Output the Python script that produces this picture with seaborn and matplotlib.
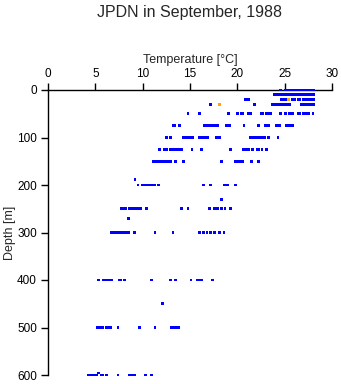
import matplotlib
matplotlib.use("Agg")
import matplotlib.pyplot as plt
import seaborn as sns
import pandas as pd

# Temperature (deg C) observed at each sampling depth (m)
depths = [0, 10, 20, 30, 50, 75, 100, 125, 150, 189, 200, 230, 250, 270,
          300, 400, 449, 500, 596, 600]
temps = [
    [24.6, 25.1, 25.3, 25.5, 25.7, 25.9, 26.1, 26.3, 26.5, 26.7, 26.9, 27.1,
     27.3, 27.5, 27.7, 27.9, 28.1],
    [23.9, 24.1, 24.4, 24.6, 24.8, 25.1, 25.3, 25.5, 25.7, 25.9, 26.1, 26.3,
     26.5, 26.7, 26.9, 27.1, 27.3, 27.5, 27.7, 27.9, 28.1],
    [20.9, 21.2, 24.7, 24.9, 25.1, 25.8, 26.0, 26.4, 26.6, 27.0, 27.2, 27.4,
     27.6, 27.8, 28.0, 28.1],
    [17.2, 21.8, 23.7, 23.9, 24.1, 24.3, 24.5, 24.7, 24.9, 25.1, 25.3, 25.5,
     26.8, 27.0, 27.2, 27.4, 27.6, 27.8, 28.0, 28.1],
    [14.8, 16.0, 19.1, 20.0, 20.4, 20.6, 21.2, 21.4, 22.5, 22.7, 23.1, 23.3,
     23.5, 24.6, 25.1, 25.5, 25.8, 26.4, 26.6, 27.0, 27.2, 27.5, 28.0],
    [13.2, 13.4, 13.9, 16.5, 16.7, 16.9, 17.1, 17.3, 17.5, 17.7, 17.9, 18.8,
     19.0, 19.2, 20.7, 22.2, 23.0, 23.3, 24.1, 24.3, 24.5, 25.2, 25.4, 25.6,
     25.8],
    [12.5, 12.9, 14.3, 14.5, 14.7, 14.9, 15.1, 15.3, 16.0, 16.2, 16.4, 16.6,
     16.9, 17.8, 18.1, 21.4, 21.6, 21.8, 22.0, 22.2, 22.4, 22.6, 22.9, 23.3,
     24.3],
    [11.8, 12.3, 12.5, 12.9, 13.1, 13.3, 13.5, 13.7, 13.9, 14.1, 15.2, 16.2,
     19.3, 20.6, 20.8, 21.0, 21.2, 21.6, 22.1, 22.3, 22.6, 23.1],
    [11.1, 11.3, 11.5, 11.7, 11.9, 12.1, 12.4, 12.6, 12.8, 13.0, 13.5, 14.3,
     18.3, 19.8, 20.0, 20.2, 20.4, 20.6, 21.5, 22.2],
    [9.2],
    [9.5, 10.0, 10.2, 10.4, 10.6, 10.8, 11.1, 11.3, 11.7, 16.4, 17.2, 18.6,
     18.8, 19.0, 19.8],
    [18.3],
    [7.8, 8.0, 8.2, 8.6, 8.8, 9.0, 9.2, 9.4, 9.6, 9.8, 10.4, 14.1, 14.8, 17.1,
     17.6, 17.9, 18.3, 18.7, 19.3],
    [8.5],
    [6.7, 6.9, 7.1, 7.3, 7.5, 7.7, 7.9, 8.1, 8.3, 8.5, 9.1, 11.3, 13.2, 16.0,
     16.4, 16.8, 17.2, 17.6, 18.1, 18.6],
    [5.3, 5.9, 6.1, 6.3, 6.5, 6.7, 7.5, 7.7, 8.1, 10.9, 12.9, 13.5, 15.1, 15.8,
     16.0, 16.2, 17.4],
    [12.1],
    [5.2, 5.4, 5.6, 5.8, 6.2, 6.4, 6.6, 7.4, 9.7, 11.3, 13.0, 13.2, 13.4, 13.6,
     13.8],
    [5.3],
    [4.3, 4.5, 4.7, 4.9, 5.1, 5.6, 5.8, 6.2, 7.4, 8.6, 8.8, 9.1, 10.3, 10.9],
]

# Flagged observations (drawn in orange)
flag_depths = [20, 30]
flag_temps = [25.4, 18.1]

x_ticks = [0, 5, 10, 15, 20, 25, 30]
y_ticks = [0, 100, 200, 300, 400, 500, 600]

rows = []
for d, ts in zip(depths, temps):
    for t in ts:
        rows.append({"temp": t, "depth": d, "flag": "ok"})
for d, t in zip(flag_depths, flag_temps):
    rows.append({"temp": t, "depth": d, "flag": "flagged"})
df = pd.DataFrame(rows)

sns.set_style("ticks")
plt.rcParams["font.family"] = ["Liberation Sans", "DejaVu Sans"]

fig = plt.figure(figsize=(3.41, 3.84), dpi=100)
ax = fig.add_axes([48 / 341, 1 - 375 / 384, (332 - 48) / 341, (375 - 90) / 384])

sns.scatterplot(data=df, x="temp", y="depth", hue="flag",
                palette={"ok": "#0000ff", "flagged": "#ffa500"},
                marker="s", s=4, linewidth=0, legend=False, ax=ax,
                clip_on=False, zorder=3)

ax.set_xlim(0, 30)
ax.set_ylim(600, 0)
ax.set_xticks(x_ticks)
ax.set_yticks(y_ticks)
ax.xaxis.tick_top()
ax.xaxis.set_label_position("top")
ax.tick_params(axis="x", direction="out", length=5, width=1, labelsize=8.5,
               pad=2, colors="black")
ax.tick_params(axis="y", direction="out", length=5, width=1, labelsize=8.5,
               pad=3, colors="black")
for side in ("right", "bottom"):
    ax.spines[side].set_visible(False)
for side in ("left", "top"):
    ax.spines[side].set_linewidth(1)
    ax.spines[side].set_color("black")

ax.set_xlabel("Temperature [\u00b0C]", fontsize=9, labelpad=4)
ax.set_ylabel("Depth [m]", fontsize=9, labelpad=1)

fig.text(190 / 341, 1 - 13 / 384, "JPDN in September, 1988", ha="center",
         va="center", fontsize=11.5)

fig.savefig("out.png", dpi=100)
